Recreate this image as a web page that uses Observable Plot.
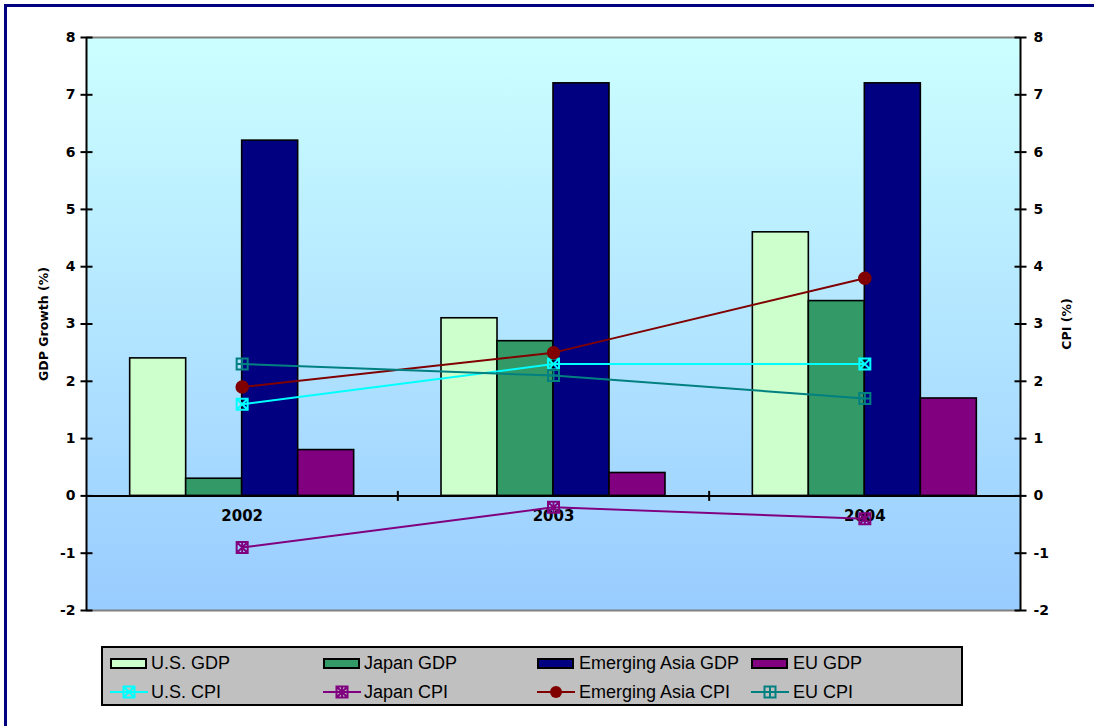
<!DOCTYPE html>
<html>
<head>
<meta charset="utf-8">
<script src="https://cdn.jsdelivr.net/npm/d3@7"></script>
<script src="https://cdn.jsdelivr.net/npm/@observablehq/plot@0.6"></script>
<style>
html, body { margin: 0; padding: 0; background: #fff; overflow: hidden; width: 1094px; height: 726px; }
#chart { position: absolute; left: 0; top: 0; }
#frame { position: absolute; left: 4px; top: 4px; width: 1200px; height: 900px; border-left: 3px solid #000080; border-top: 3px solid #000080; z-index: 5; pointer-events: none; }
#legendBox { position: absolute; left: 101px; top: 646px; width: 862px; height: 60px; box-sizing: border-box; border: 2px solid #000; background: #C0C0C0; }
.lg-item { position: absolute; font-family: "Liberation Sans", Arial, sans-serif; font-size: 18px; line-height: 20px; height: 20px; white-space: nowrap; color: #000; }
.lg-sw { position: absolute; }
</style>
</head>
<body>
<div id="chart"></div>
<div id="legendBox"></div>
<div id="legendItems"></div>
<div id="frame"></div>
<script>
// ---------- data ----------
const years = [2002, 2003, 2004];

const gdpSeries = ["U.S. GDP", "Japan GDP", "Emerging Asia GDP", "EU GDP"];
const gdpColors = ["#CCFFCC", "#339966", "#000080", "#800080"];
const usGDP = [2.4, 3.1, 4.6];
const japanGDP = [0.3, 2.7, 3.4];
const emAsiaGDP = [6.2, 7.2, 7.2];
const euGDP = [0.8, 0.4, 1.7];

const cpiSeries = ["U.S. CPI", "Japan CPI", "Emerging Asia CPI", "EU CPI"];
const cpiColors = ["#00FFFF", "#800080", "#800000", "#008080"];
const usCPI = [1.6, 2.3, 2.3];
const japanCPI = [-0.9, -0.2, -0.4];
const emAsiaCPI = [1.9, 2.5, 3.8];
const euCPI = [2.3, 2.1, 1.7];

const yTicks = [-2, -1, 0, 1, 2, 3, 4, 5, 6, 7, 8];
const leftTitle = "GDP Growth (%)";
const rightTitle = "CPI (%)";

// ---------- tables ----------
const gdpValues = [usGDP, japanGDP, emAsiaGDP, euGDP];
const cpiValues = [usCPI, japanCPI, emAsiaCPI, euCPI];
const nBars = gdpSeries.length;
const outerPad = 0.78;                     // in bar widths
const slot = 1 / (nBars + 2 * outerPad);   // bar width in year units

const barRows = gdpSeries.flatMap((s, k) => years.map((yr, i) => ({series: s, k, year: yr, value: gdpValues[k][i]})));
const cpiRows = cpiSeries.flatMap((s, k) => years.map((yr, i) => ({series: s, k, year: yr, value: cpiValues[k][i]})));

const xMin = years[0] - 0.5, xMax = years[years.length - 1] + 0.5;
const boundaries = years.slice(0, -1).map(y => y + 0.5);

// ---------- symbols ----------
const tickV = {draw(c) { c.moveTo(0, -5); c.lineTo(0, 5); }};
const tickH = {draw(c) { c.moveTo(-6, 0); c.lineTo(6, 0); }};
function boxSym(s, extra) { return {draw(c) { c.rect(-s, -s, 2 * s, 2 * s); extra(c, s); }}; }
const symX = boxSym(5.5, (c, s) => { c.moveTo(-s, -s); c.lineTo(s, s); c.moveTo(s, -s); c.lineTo(-s, s); });
const symAst = boxSym(5.5, (c, s) => { c.moveTo(-s, -s); c.lineTo(s, s); c.moveTo(s, -s); c.lineTo(-s, s); c.moveTo(0, -s); c.lineTo(0, s); });
const symPlus = boxSym(5.5, (c, s) => { c.moveTo(0, -s); c.lineTo(0, s); c.moveTo(-s, 0); c.lineTo(s, 0); });
const cpiSymbols = [symX, symAst, "circle", symPlus];

// ---------- marks ----------
const marks = [
  Plot.frame({fill: "url(#bgGrad)", stroke: "none"}),
  Plot.ruleY([yTicks[0], yTicks[yTicks.length - 1]], {stroke: "#808080", strokeWidth: 2}),
];
gdpSeries.forEach((s, k) => {
  marks.push(Plot.rectY(barRows.filter(d => d.k === k), {
    x1: d => d.year - 0.5 + (outerPad + k) * slot,
    x2: d => d.year - 0.5 + (outerPad + k + 1) * slot,
    y1: 0, y2: "value",
    fill: gdpColors[k], stroke: "#000", strokeWidth: 1.6
  }));
});
marks.push(
  Plot.ruleX([xMin, xMax], {stroke: "#000", strokeWidth: 2}),
  Plot.ruleY([0], {stroke: "#000", strokeWidth: 2}),
  Plot.dot(boundaries, {x: d => d, y: 0, symbol: tickV, fill: "none", stroke: "#000", strokeWidth: 2}),
  Plot.dot(yTicks, {x: xMin, y: d => d, symbol: tickH, fill: "none", stroke: "#000", strokeWidth: 2}),
  Plot.dot(yTicks, {x: xMax, y: d => d, symbol: tickH, fill: "none", stroke: "#000", strokeWidth: 2}),
  Plot.text(yTicks, {x: xMin, y: d => d, text: d => String(d), textAnchor: "end", dx: -11, fontWeight: "bold", fontSize: 14}),
  Plot.text(yTicks, {x: xMax, y: d => d, text: d => String(d), textAnchor: "start", dx: 13, fontWeight: "bold", fontSize: 14}),
  Plot.text(years, {x: d => d, y: 0, dy: 20, text: d => String(d), fontWeight: "bold", fontSize: 15}),
  Plot.text([leftTitle], {frameAnchor: "left", textAnchor: "middle", dx: -43, rotate: -90, text: d => d, fontWeight: "bold", fontSize: 12.5}),
  Plot.text([rightTitle], {frameAnchor: "right", textAnchor: "middle", dx: 46, rotate: -90, text: d => d, fontWeight: "bold", fontSize: 12.5})
);
cpiSeries.forEach((s, k) => {
  const rows = cpiRows.filter(d => d.k === k);
  marks.push(Plot.line(rows, {x: "year", y: "value", stroke: cpiColors[k], strokeWidth: 2}));
});
cpiSeries.forEach((s, k) => {
  const rows = cpiRows.filter(d => d.k === k);
  if (cpiSymbols[k] === "circle") {
    marks.push(Plot.dot(rows, {x: "year", y: "value", r: 6, fill: cpiColors[k], stroke: cpiColors[k]}));
  } else {
    marks.push(Plot.dot(rows, {x: "year", y: "value", symbol: cpiSymbols[k], fill: "none", stroke: cpiColors[k], strokeWidth: 2}));
  }
});

const svg = Plot.plot({
  width: 1094,
  height: 640,
  marginLeft: 86,
  marginRight: 74,
  marginTop: 37,
  marginBottom: 30,
  x: {type: "linear", domain: [xMin, xMax], axis: null},
  y: {domain: [yTicks[0], yTicks[yTicks.length - 1]], axis: null},
  style: {background: "transparent", fontFamily: "'DejaVu Sans', sans-serif", overflow: "visible"},
  marks
});
const defs = d3.select(svg).insert("defs", ":first-child");
const grad = defs.append("linearGradient").attr("id", "bgGrad").attr("x1", 0).attr("y1", 0).attr("x2", 0).attr("y2", 1);
grad.append("stop").attr("offset", "0%").attr("stop-color", "#CCFFFF");
grad.append("stop").attr("offset", "100%").attr("stop-color", "#99CCFF");
document.getElementById("chart").appendChild(svg);

// ---------- legend ----------
const colX = [110, 323, 537, 751];
const textX = [151, 364, 579, 793];
const rowY = [663, 692];
const items = document.getElementById("legendItems");
gdpSeries.forEach((s, k) => {
  const sw = document.createElement("div");
  sw.className = "lg-sw";
  sw.style.cssText = `left:${colX[k]}px;top:${rowY[0] - 5}px;width:37px;height:11px;box-sizing:border-box;border:2px solid #000;background:${gdpColors[k]};`;
  items.appendChild(sw);
  const t = document.createElement("div");
  t.className = "lg-item";
  t.style.left = textX[k] + "px";
  t.style.top = (rowY[0] - 10) + "px";
  t.textContent = s;
  items.appendChild(t);
});
cpiSeries.forEach((s, k) => {
  const ns = "http://www.w3.org/2000/svg";
  const sv = document.createElementNS(ns, "svg");
  sv.setAttribute("width", 38); sv.setAttribute("height", 16);
  sv.setAttribute("class", "lg-sw");
  sv.style.left = colX[k] + "px";
  sv.style.top = (rowY[1] - 8) + "px";
  const ln = document.createElementNS(ns, "line");
  ln.setAttribute("x1", 0); ln.setAttribute("x2", 38); ln.setAttribute("y1", 8); ln.setAttribute("y2", 8);
  ln.setAttribute("stroke", cpiColors[k]); ln.setAttribute("stroke-width", 2);
  sv.appendChild(ln);
  const mk = document.createElementNS(ns, "path");
  if (cpiSymbols[k] === "circle") {
    mk.setAttribute("d", d3.symbol(d3.symbolCircle, 36 * Math.PI)());
    mk.setAttribute("fill", cpiColors[k]);
  } else {
    mk.setAttribute("d", d3.symbol(cpiSymbols[k], 1)());
    mk.setAttribute("fill", "none");
    mk.setAttribute("stroke", cpiColors[k]); mk.setAttribute("stroke-width", 2);
  }
  mk.setAttribute("transform", "translate(19,8)");
  sv.appendChild(mk);
  items.appendChild(sv);
  const t = document.createElement("div");
  t.className = "lg-item";
  t.style.left = textX[k] + "px";
  t.style.top = (rowY[1] - 10) + "px";
  t.textContent = s;
  items.appendChild(t);
});
</script>
</body>
</html>
